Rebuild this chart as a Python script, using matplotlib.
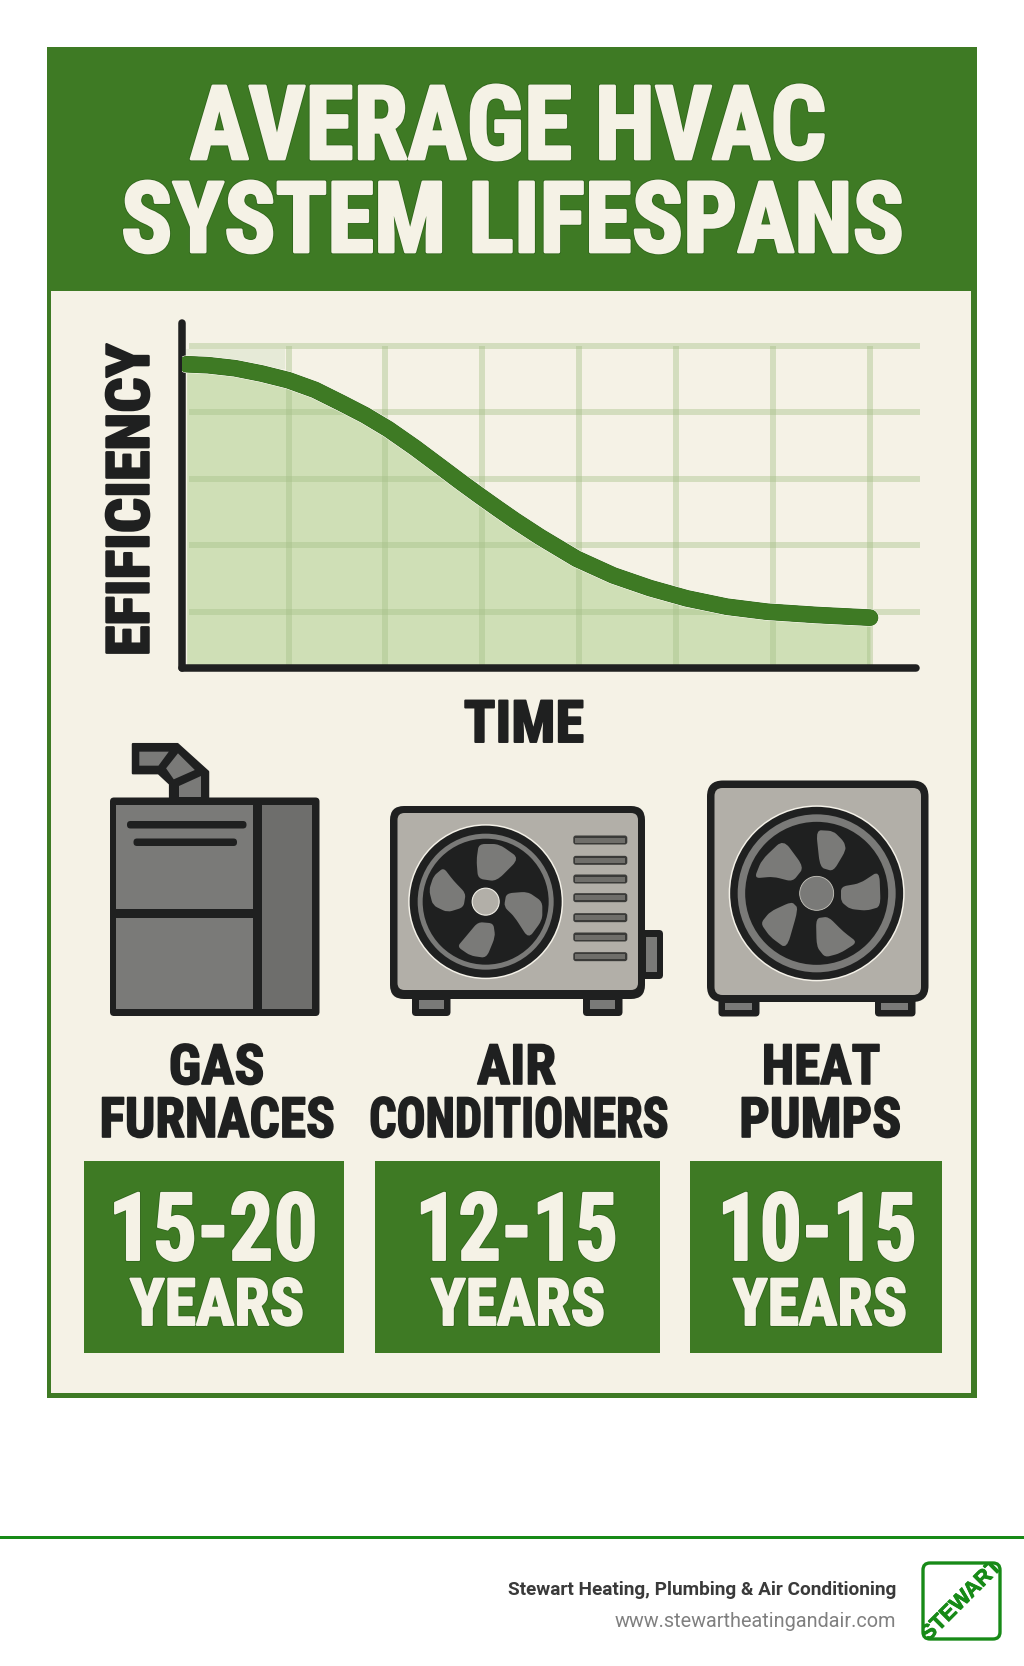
import matplotlib
matplotlib.use("Agg")
import matplotlib.pyplot as plt
import matplotlib.patheffects as pe
from matplotlib.patches import Rectangle, FancyBboxPatch, Circle, Polygon, PathPatch
from matplotlib.path import Path
from matplotlib.transforms import Affine2D

# ---------- data ----------
title_lines = ["AVERAGE HVAC", "SYSTEM LIFESPANS"]
y_label = "EFIFICIENCY"
x_label = "TIME"
time_ticks = [1, 2, 3, 4, 5, 6, 7]
efficiency_ticks = [20, 40, 60, 80, 100]
time_values = [-0.054, 0.169, 0.445, 0.721, 0.996, 1.272, 1.548, 1.788, 2.029, 2.305, 2.581, 2.787,
               2.976, 3.165, 3.338, 3.596, 3.975, 4.353, 4.732, 5.112, 5.525, 5.938, 6.455, 7.005]
efficiency_values = [94.5, 94.2, 93.3, 91.7, 89.7, 86.8, 82.8, 79.2, 75.0, 69.4, 63.4, 58.9,
                     54.9, 51.0, 47.5, 42.6, 36.0, 31.0, 27.2, 24.1, 21.6, 20.1, 19.1, 18.3]
systems = [["GAS", "FURNACES"], ["AIR", "CONDITIONERS"], ["HEAT", "PUMPS"]]
lifespans = ["15-20", "12-15", "10-15"]
unit = "YEARS"
company = "Stewart Heating, Plumbing & Air Conditioning"
website = "www.stewartheatingandair.com"
logo = "STEWART"

GREEN = "#3e7a24"
CREAM = "#f5f2e6"
DARK = "#1f2020"
MID = "#7a7a78"
LIGHT = "#b2afa8"
FOOT = "#178a17"
OUTLINE = "#2f661b"
NARROW = ["Roboto Condensed", "Liberation Sans", "DejaVu Sans"]

W, H = 1024, 1666
fig = plt.figure(figsize=(W / 100, H / 100), dpi=100, facecolor="white")
bg = fig.add_axes([0, 0, 1, 1])
bg.set_xlim(0, W)
bg.set_ylim(H, 0)
bg.axis("off")


class Squeeze(pe.AbstractPathEffect):
    """Draws a text's glyphs rescaled about a centre line, with an optional stroke in a given colour."""

    def __init__(self, cx, sx, lw, color, cy=0.0, sy=1.0):
        super().__init__()
        self.cx, self.sx, self.lw, self.color, self.cy, self.sy = cx, sx, lw, color, cy, sy

    def draw_path(self, renderer, gc, tpath, affine, rgbFace=None):
        squeezed = affine + (Affine2D().translate(-self.cx, -self.cy).scale(self.sx, self.sy)
                             .translate(self.cx, self.cy))
        gc0 = renderer.new_gc()
        gc0.copy_properties(gc)
        gc0.set_foreground(self.color)
        gc0.set_linewidth(self.lw)
        renderer.draw_path(gc0, tpath, squeezed, rgbFace)
        gc0.restore()


def label(x, y, s, size, color, bold=0.0, sx=1.0, outline=None, **kw):
    t = bg.text(x, y, s, fontsize=size, color=color, family=NARROW, fontweight="bold",
                ha="center", va="baseline", **kw)
    effects = []
    if outline:
        effects.append(Squeeze(x, sx, bold + 1.2, outline))
    effects.append(Squeeze(x, sx, bold, color))
    t.set_path_effects(effects)
    return t


def rounded(points, k=0.3):
    """Closed outline through the points with only the corners rounded."""
    n = len(points)
    verts, codes = [], []
    for i in range(n):
        a, b, c = points[i - 1], points[i], points[(i + 1) % n]
        p0 = (b[0] + (a[0] - b[0]) * k, b[1] + (a[1] - b[1]) * k)
        p1 = (b[0] + (c[0] - b[0]) * k, b[1] + (c[1] - b[1]) * k)
        verts += [p0, b, p1]
        codes += [Path.LINETO if i else Path.MOVETO, Path.CURVE3, Path.CURVE3]
    verts.append(verts[0])
    codes.append(Path.CLOSEPOLY)
    return Path(verts, codes)


def rrect(x0, y0, x1, y1, r, fc, ec="none", lw=0, z=2):
    p = FancyBboxPatch((x0 + r, y0 + r), x1 - x0 - 2 * r, y1 - y0 - 2 * r,
                       boxstyle=f"round,pad={r},rounding_size={r}", fc=fc, ec=ec, lw=lw, zorder=z)
    bg.add_patch(p)
    return p


# ---------- frame ----------
bg.add_patch(Rectangle((46.5, 46.5), 930, 1351.5, fc=GREEN, ec="none", zorder=1))
bg.add_patch(Rectangle((51, 291), 920, 1102, fc=CREAM, ec="none", zorder=1))
label(508, 159, title_lines[0], 74, CREAM, 2.0, 0.955, OUTLINE, zorder=3)
label(512.5, 252, title_lines[1], 71, CREAM, 2.0, 0.966, OUTLINE, zorder=3)

# ---------- chart ----------
L, R, T, B = 182, 916, 323, 668
bg.add_patch(Rectangle((186, 349), 99, 20, fc="#e6ead7", ec="none", zorder=2))
chart = fig.add_axes([L / W, 1 - B / H, (R - L) / W, (B - T) / H], facecolor="none")
y0 = 3.16
chart.set_xlim(-0.102, 7.48)
chart.set_ylim(y0, 106.9)
chart.fill_between(time_values, efficiency_values, y0, color="#cfdfb6", lw=0, zorder=1)
chart.vlines(time_ticks, y0, 100, color="#a6c088", alpha=0.42, lw=4.3, zorder=2)
chart.hlines(efficiency_ticks, -0.03, 7.52, color="#a6c088", alpha=0.42, lw=4.3, zorder=2, clip_on=False)
chart.plot(time_values, efficiency_values, color=GREEN, lw=11.2, solid_capstyle="round",
           solid_joinstyle="round", zorder=3,
           path_effects=[pe.withStroke(linewidth=12.8, foreground="#f6f6ea"),
                         pe.withStroke(linewidth=11.9, foreground="#2d6419"), pe.Normal()])
for side in ("top", "right"):
    chart.spines[side].set_visible(False)
for side in ("left", "bottom"):
    chart.spines[side].set_linewidth(5.4)
    chart.spines[side].set_color(DARK)
    chart.spines[side].set_capstyle("round")
chart.set_xticks([])
chart.set_yticks([])
chart.set_xlabel(x_label, fontsize=42, family=NARROW, fontweight="bold", color=DARK, va="baseline",
                 path_effects=[pe.withStroke(linewidth=1.4, foreground=DARK)])
chart.xaxis.set_label_coords((524 - L) / (R - L), (B - 742) / (B - T))
chart.set_ylabel(y_label, fontsize=42.5, family=NARROW, fontweight="bold", color=DARK, va="baseline",
                 path_effects=[Squeeze(0.0, 1.0, 1.8, DARK, cy=H - 500.0, sy=1.05)])
chart.yaxis.set_label_coords((148.5 - L) / (R - L), (B - 500) / (B - T))

# ---------- furnace icon ----------
def f2(x, y):
    return (x / 2.613 + 80, y / 3 + 720)


duct = [(138, 72), (255, 72), (335, 155), (335, 240), (235, 240), (235, 192), (205, 160), (138, 160)]
bg.add_patch(Polygon([f2(*p) for p in duct], closed=True, fc=DARK, ec=DARK, lw=1.5, joinstyle="round", zorder=2))
for seg in ([(155, 95), (232, 95), (205, 137), (155, 137)],
            [(256, 100), (300, 150), (245, 178), (225, 145)],
            [(315, 168), (315, 232), (258, 232), (258, 197)]):
    bg.add_patch(Polygon([f2(*p) for p in seg], closed=True, fc=MID, ec="none", zorder=3))
rrect(110, 797.5, 319.5, 1016, 4, DARK)
bg.add_patch(Rectangle((116, 805), 137, 104, fc=MID, zorder=3))
bg.add_patch(Rectangle((116, 918), 137, 91, fc=MID, zorder=3))
bg.add_patch(Rectangle((262, 805), 50, 204, fc="#6e6e6c", zorder=3))
rrect(127, 821, 246.5, 828.5, 3.5, DARK, z=4)
rrect(133.5, 838.5, 237, 846, 3.5, DARK, z=4)

# ---------- air conditioner icon ----------
rrect(412, 990, 450.5, 1016, 4, DARK)
rrect(583, 990, 622.5, 1016, 4, DARK)
bg.add_patch(Rectangle(f2(885, 840), 67 / 2.613, 28 / 3, fc=MID, zorder=4))
bg.add_patch(Rectangle(f2(1332, 840), 67 / 2.613, 28 / 3, fc=MID, zorder=4))
rrect(640, 930, 663, 979, 4, DARK)
bg.add_patch(Rectangle((645.5, 937), 11, 35, fc=MID, zorder=4))
rrect(390, 806, 645, 999, 14, DARK, z=3)
rrect(397.5, 813, 638, 990, 7, LIGHT, z=3)
ac_c = f2(1060, 545)
bg.add_patch(Circle(ac_c, 77.5, fc="#f4f1e8", zorder=4))
bg.add_patch(Circle(ac_c, 76, fc=DARK, zorder=4))
bg.add_patch(Circle(ac_c, 68, fc=MID, zorder=4))
bg.add_patch(Circle(ac_c, 63, fc=DARK, zorder=4))
for blade in ([(1042, 372), (1095, 372), (1148, 415), (1088, 484), (1040, 476), (1036, 420)],
              [(950, 443), (976, 482), (1008, 520), (1002, 562), (960, 577), (922, 556), (912, 510), (924, 468)],
              [(1114, 520), (1170, 515), (1208, 545), (1208, 600), (1172, 656), (1135, 590), (1108, 560)],
              [(1040, 606), (1080, 610), (1085, 650), (1062, 714), (1020, 707), (986, 680), (1008, 650)]):
    bg.add_patch(PathPatch(rounded([f2(*p) for p in blade]), fc=MID, ec="none", zorder=5))
bg.add_patch(Circle(ac_c, 13.5, fc=LIGHT, ec="#f0eee6", lw=0.8, zorder=5))
for vy in (360, 421, 477, 533, 593, 651, 710):
    x0, y_v = f2(1289, vy)
    rrect(x0, y_v - 4.5, x0 + 54, y_v + 4.5, 2.5, "#3a3a38", z=4)
    bg.add_patch(Rectangle((x0 + 2, y_v - 2.5), 50, 5, fc="#6f6e6a", zorder=5))

# ---------- heat pump icon ----------
def f3(x, y):
    return (x / 3 + 620, y / 3 + 760)


rrect(718.5, 990, 759.5, 1016.5, 4, DARK)
rrect(875, 990, 915.5, 1016.5, 4, DARK)
bg.add_patch(Rectangle(f3(315, 728), 82 / 3, 22 / 3, fc=MID, zorder=4))
bg.add_patch(Rectangle(f3(783, 728), 80 / 3, 22 / 3, fc=MID, zorder=4))
rrect(707, 780.5, 928.5, 1002, 16, DARK, z=3)
rrect(714.5, 788, 921, 995, 8, LIGHT, z=3)
hp_c = f3(590, 400)
bg.add_patch(Circle(hp_c, 88, fc="#f4f1e8", zorder=4))
bg.add_patch(Circle(hp_c, 86.5, fc=DARK, zorder=4))
bg.add_patch(Circle(hp_c, 79, fc=MID, zorder=4))
bg.add_patch(Circle(hp_c, 71.5, fc=DARK, zorder=4))
for blade in ([(588, 210), (640, 213), (672, 245), (678, 270), (640, 334), (600, 322)],
              [(778, 332), (782, 440), (740, 452), (690, 447), (663, 425), (663, 380), (720, 370)],
              [(588, 475), (625, 470), (670, 515), (712, 547), (660, 580), (615, 592), (590, 560)],
              [(515, 425), (535, 445), (500, 567), (450, 530), (422, 490), (450, 455)],
              [(490, 238), (552, 322), (518, 365), (460, 350), (403, 355), (425, 300)]):
    bg.add_patch(PathPatch(rounded([f3(*p) for p in blade]), fc=MID, ec="none", zorder=5))
bg.add_patch(Circle(hp_c, 17, fc=MID, ec="#c9c7bf", lw=0.6, zorder=5))

# ---------- system labels and lifespan boxes ----------
label_x = [[216.5, 217], [516.5, 518.5], [821, 820]]
label_sx = [[1.0, 0.96], [1.0, 0.864], [0.95, 0.97]]
box_x = [(84, 344), (375, 660), (690, 942)]
num_x = [213, 516.5, 817]
num_sx = [0.93, 0.90, 0.885]
yrs_x = [217, 518, 820]
for i in range(3):
    label(label_x[i][0], 1084, systems[i][0], 40, DARK, 1.2, label_sx[i][0], zorder=3)
    label(label_x[i][1], 1137, systems[i][1], 40, DARK, 1.2, label_sx[i][1], zorder=3)
    x0, x1 = box_x[i]
    bg.add_patch(Rectangle((x0, 1161), x1 - x0, 192, fc=GREEN, ec="none", zorder=2))
    label(num_x[i], 1260, lifespans[i], 68, CREAM, 1.4, num_sx[i], OUTLINE, zorder=3)
    label(yrs_x[i], 1325, unit, 47, CREAM, 1.4, 0.98, OUTLINE, zorder=3)

# ---------- footer ----------
bg.add_patch(Rectangle((0, 1536), W, 3, fc=FOOT, ec="none", zorder=1))
bg.text(896, 1595, company, fontsize=13.7, family="Roboto", fontweight="bold", color="#3a3a3a",
        ha="right", va="baseline")
bg.text(896, 1627, website, fontsize=14.3, family="Roboto", color="#808080", ha="right", va="baseline")
box = rrect(923, 1563, 1000, 1639, 7, "white", FOOT, 2.4, z=2)
t = bg.text(961.5, 1601, logo, fontsize=15.5, family="Liberation Sans", fontweight="bold", color=FOOT,
            rotation=45, ha="center", va="center", zorder=3, clip_on=True,
            path_effects=[pe.withStroke(linewidth=0.6, foreground=FOOT)])
t.set_clip_path(box)

fig.savefig("out.png", dpi=100)
